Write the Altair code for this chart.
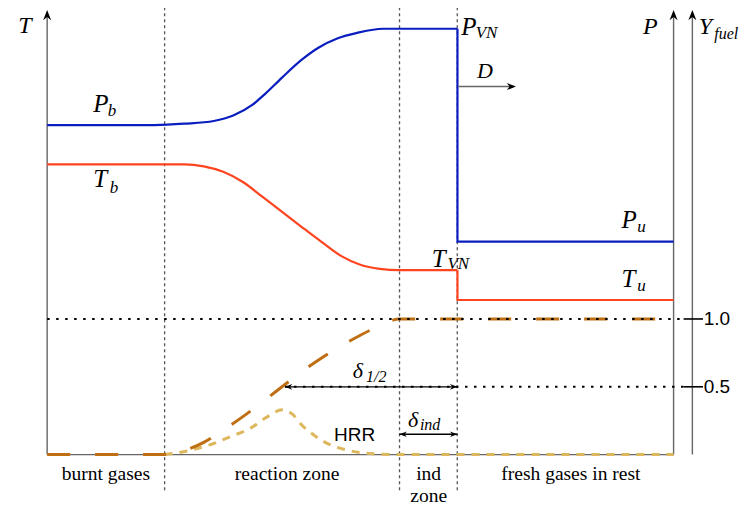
import altair as alt
import pandas as pd

# ---------------- data (schematic units: x = position, y = normalised value) ----
# pressure profile (smooth part, burnt side -> von Neumann state)
p_x = [0.0, 1.72, 2.19, 2.66, 2.97, 3.28, 3.48, 3.75, 4.06, 4.33, 4.64, 4.95, 5.36, 5.63, 6.55]
p_v = [2.43, 2.43, 2.44, 2.46, 2.50, 2.58, 2.66, 2.78, 2.91, 3.00, 3.07, 3.11, 3.14, 3.14, 3.14]
# pressure jump at the shock and fresh state
p_jump_x = [6.55, 6.55, 10.0]
p_jump_v = [3.14, 1.57, 1.57]

# temperature profile
t_x = [0.0, 1.72, 2.19, 2.5, 2.81, 3.125, 3.44, 3.75, 4.06, 4.375, 4.69, 5.0, 5.31, 5.625, 6.55]
t_v = [2.14, 2.14, 2.14, 2.125, 2.085, 2.01, 1.90, 1.79, 1.68, 1.57, 1.465, 1.40, 1.37, 1.36, 1.36]
t_jump_x = [6.55, 6.55, 10.0]
t_jump_v = [1.36, 1.14, 1.14]

# fuel mass fraction
yf_x = [0.0, 1.875, 2.19, 2.5, 2.81, 3.125, 3.44, 3.75, 4.06, 4.375, 4.69, 5.0, 5.31, 5.625, 10.0]
yf_v = [0.0, 0.0, 0.03, 0.09, 0.18, 0.28, 0.39, 0.5, 0.61, 0.71, 0.80, 0.88, 0.95, 1.0, 1.0]

# heat release rate
hrr_x = [1.875, 2.27, 2.58, 2.97, 3.23, 3.52, 3.75, 3.91, 4.06, 4.30, 4.53, 4.77, 5.0, 5.31, 5.625, 10.0]
hrr_v = [0.0, 0.03, 0.07, 0.14, 0.19, 0.28, 0.33, 0.30, 0.22, 0.13, 0.07, 0.035, 0.015, 0.003, 0.0, 0.0]

# zone boundaries
zone_x = [1.875, 5.625, 6.547]
# Y_fuel ticks
yf_ticks = [1.0, 0.5]
yf_tick_labels = ["1.0", "0.5"]
zone_names = ["burnt gases", "reaction zone", "ind", "zone", "fresh gases in rest"]

# ---------------- helpers ----------------
X_DOM = [-0.625, 11.156]
Y_DOM = [-0.379, 3.293]
xs = alt.Scale(domain=X_DOM, nice=False, zero=False)
ys = alt.Scale(domain=Y_DOM, nice=False, zero=False)

BLUE = "#0a1ec0"
RED = "#ff4420"
BROWN = "#bf6e12"
GOLD = "#dcb75c"
GRAY = "#666666"
VGRAY = "#555555"


def line(xv, yv, color, width, dash=None, interp="linear"):
    df = pd.DataFrame({"x": xv, "y": yv, "i": list(range(len(xv)))})
    kw = dict(color=color, strokeWidth=width, interpolate=interp, strokeCap="butt")
    if dash:
        kw["strokeDash"] = dash
    return alt.Chart(df).mark_line(**kw).encode(
        x=alt.X("x:Q", scale=xs, axis=None),
        y=alt.Y("y:Q", scale=ys, axis=None),
        order=alt.Order("i:Q"),
    )


def rules(rows, color, width, dash=None):
    df = pd.DataFrame(rows, columns=["x", "x2", "y", "y2"])
    kw = dict(color=color, strokeWidth=width, strokeCap="butt")
    if dash:
        kw["strokeDash"] = dash
    return alt.Chart(df).mark_rule(**kw).encode(
        x=alt.X("x:Q", scale=xs, axis=None),
        x2="x2:Q",
        y=alt.Y("y:Q", scale=ys, axis=None),
        y2="y2:Q",
    )


def texts(rows, size, font, style="normal", align="left", baseline="alphabetic", color="black"):
    df = pd.DataFrame(rows, columns=["x", "y", "t"])
    return alt.Chart(df).mark_text(
        font=font, fontSize=size, fontStyle=style, align=align,
        baseline=baseline, color=color,
    ).encode(
        x=alt.X("x:Q", scale=xs, axis=None),
        y=alt.Y("y:Q", scale=ys, axis=None),
        text="t:N",
    )


ARROW = "M0,0 L0.9,2.3 L0,1.6 L-0.9,2.3 Z"


def heads(rows, size):
    df = pd.DataFrame(rows, columns=["x", "y", "a"])
    return alt.Chart(df).mark_point(
        shape=ARROW, filled=True, color="black", size=size, opacity=1, strokeWidth=0
    ).encode(
        x=alt.X("x:Q", scale=xs, axis=None),
        y=alt.Y("y:Q", scale=ys, axis=None),
        angle=alt.Angle("a:Q", scale=None),
    )


TOP = 3.279
X_YF = 10.3
X_TICK0, X_TICK1 = 10.16, 10.47

layers = []
# zone separators
layers.append(rules([[zx, zx, TOP + 0.02, -0.279] for zx in zone_x], VGRAY, 1.3, [3, 3]))
# axes
layers.append(rules([[0, 0, 0, TOP - 0.03], [10, 10, 0, TOP - 0.03],
                     [X_YF, X_YF, 0, TOP - 0.03], [0, 10, 0, 0]], GRAY, 1.4))
layers.append(heads([[0, TOP, 0], [10, TOP, 0], [X_YF, TOP, 0]], 80))

# curves
layers.append(line(hrr_x, hrr_v, GOLD, 3, [8, 7], "monotone"))
layers.append(line(yf_x, yf_v, BROWN, 3, [23, 25], "monotone"))
layers.append(line(p_x, p_v, BLUE, 2.2, None, "monotone"))
layers.append(line(p_jump_x, p_jump_v, BLUE, 2.2))
layers.append(line(t_x, t_v, RED, 2.2, None, "monotone"))
layers.append(line(t_jump_x, t_jump_v, RED, 2.2))

# dotted reference lines + ticks
layers.append(rules([[0, X_TICK0, yf_ticks[0], yf_ticks[0]],
                     [3.797, X_TICK0, yf_ticks[1], yf_ticks[1]]], "black", 2, [2.5, 6.5]))
layers.append(rules([[X_TICK0, X_TICK1, v, v] for v in yf_ticks], "black", 1.6))

# delta arrows and D arrow
layers.append(rules([[3.797, 6.547, 0.5, 0.5], [5.625, 6.547, 0.15, 0.15]], "black", 1.3))
layers.append(rules([[6.5625, 7.45, 2.714, 2.714]], GRAY, 1.4))
layers.append(heads([[3.797, 0.5, 270], [6.547, 0.5, 90],
                     [5.625, 0.15, 270], [6.547, 0.15, 90]], 40))
layers.append(heads([[7.484, 2.714, 90]], 64))

SERIF = "Liberation Serif"
SANS = "Liberation Sans"

# main math labels
layers.append(texts([[0.734, 2.529, "P"], [0.734, 1.971, "T"], [6.61, 3.093, "P"],
                     [6.14, 1.386, "T"], [9.17, 1.671, "P"], [9.17, 1.236, "T"]],
                    25, SERIF, "italic"))
layers.append(texts([[0.969, 2.50, "b"], [1.0, 1.932, "b"], [6.84, 3.071, "VN"],
                     [6.39, 1.371, "VN"], [9.42, 1.643, "u"], [9.42, 1.207, "u"]],
                    17, SERIF, "italic"))
# axis labels
layers.append(texts([[-0.46, 3.107, "T"], [9.51, 3.10, "P"], [10.40, 3.10, "Y"]],
                    24, SERIF, "italic"))
layers.append(texts([[10.65, 3.064, "fuel"]], 16, SERIF, "italic"))
layers.append(texts([[6.86, 2.779, "D"], [4.88, 0.564, "δ"], [5.76, 0.207, "δ"]],
                    22, SERIF, "italic"))
layers.append(texts([[5.09, 0.536, "1/2"], [5.95, 0.179, "ind"]], 16, SERIF, "italic"))
# HRR + tick labels
layers.append(texts([[4.578, 0.10, "HRR"]], 19, SANS))
layers.append(texts([[10.48, v, s] for v, s in zip(yf_ticks, yf_tick_labels)], 19, SANS,
                    baseline="middle"))
# zone names
layers.append(texts([[0.9375, -0.186, zone_names[0]], [3.83, -0.186, zone_names[1]],
                     [6.09, -0.186, zone_names[2]], [6.09, -0.35, zone_names[3]],
                     [8.36, -0.186, zone_names[4]]], 19.5, SERIF, align="center"))

chart = alt.layer(*layers).properties(
    width=738, height=498, padding=0,
    autosize=alt.AutoSizeParams(type="none"),
    background="white",
).configure_view(stroke=None)

chart.save("out.html", embed_options={"renderer": "svg", "actions": False})
